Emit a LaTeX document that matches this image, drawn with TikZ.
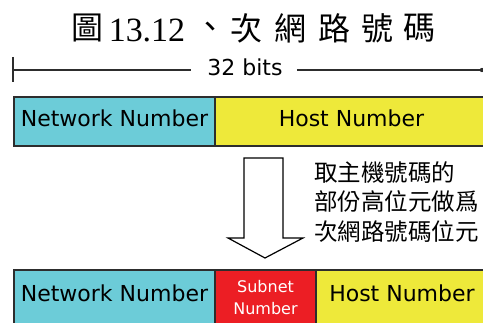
\documentclass[tikz,border=0pt]{standalone}
\usepackage{fontspec}
\setmainfont{DejaVu Sans}
\newfontfamily\cjk{Noto Sans CJK TC}
\newfontfamily\serifnum{Liberation Serif}
\definecolor{netcyan}{RGB}{108,204,216}
\definecolor{hostyellow}{RGB}{238,233,58}
\definecolor{subred}{RGB}{236,30,36}
\definecolor{edge}{RGB}{45,45,45}
\begin{document}
\begin{tikzpicture}[x=1pt,y=-1pt,
  field/.style={draw=edge, line width=1.6pt, inner sep=0pt,
    minimum width=#1, font=\fontsize{22}{26}\selectfont},
  toprow/.style={minimum height=49pt, text height=16pt, text depth=6pt},
  botrow/.style={minimum height=56pt, text height=16pt, text depth=8pt},
  titlecjk/.style={inner sep=0pt, font=\cjk\fontsize{32}{36}\selectfont},
  titlenum/.style={inner sep=0pt, font=\serifnum\fontsize{34}{38}\selectfont},
  ruler/.style={draw=edge, line width=1.4pt},
  bigarrow/.style={draw=black, line width=1.2pt, fill=white, line join=miter}]
\useasboundingbox (0,0) rectangle (483,323);

% title
\node[titlecjk] (t1) at (87,28) {圖};
\node[titlenum] (t2) at (147,30) {13.12};
\node[titlecjk] (t3) at (210,30) {、};
\node[titlecjk] (t4) at (246,28) {次};
\node[titlecjk] (t5) at (290,28) {網};
\node[titlecjk] (t6) at (334,28) {路};
\node[titlecjk] (t7) at (377,28) {號};
\node[titlecjk] (t8) at (419,28) {碼};

% 32-bit ruler
\node[inner sep=0pt, font=\fontsize{22}{26}\selectfont] (bits) at (245,67) {32 bits};
\coordinate (lend) at (13,70);
\coordinate (rend) at (482,70);
\draw[ruler] (lend) -- ([xshift=-16pt]bits.west |- lend);
\draw[ruler] ([xshift=14pt]bits.east |- rend) -- (rend);
\draw[ruler] (13,57) -- (13,82);
\fill[edge] (rend) circle (2.2pt);

% original address
\node[field=201pt, toprow, fill=netcyan] (net1) at (114.5,121.5) {Network Number};
\node[field=273pt, toprow, fill=hostyellow] (host1) at (351.5,121.5) {Host Number};

% conversion arrow
\draw[bigarrow] (244,158) -- (283,158) -- (283,238) -- (303,238) -- (265,258)
  -- (228,238) -- (244,238) -- cycle;

% explanation
\node[inner sep=0pt, anchor=west, align=left,
  font=\cjk\fontsize{23.5}{29.5}\selectfont] (note) at (314,202)
  {取主機號碼的\\部份高位元做爲\\次網路號碼位元};

% subnetted address
\node[field=201pt, botrow, fill=netcyan] (net2) at (114.5,298) {Network Number};
\node[field=101pt, minimum height=56pt, fill=subred, text=white, align=center,
  font=\fontsize{16}{22}\selectfont] (sub) at (265.5,298) {Subnet\\Number};
\node[field=172pt, botrow, fill=hostyellow] (host2) at (402,298) {Host Number};
\end{tikzpicture}
\end{document}
